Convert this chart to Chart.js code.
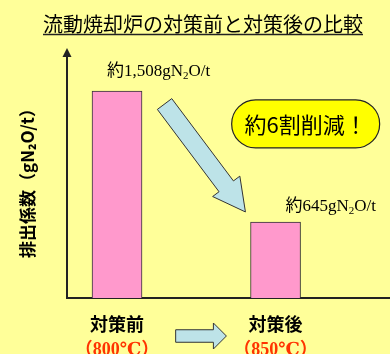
<!DOCTYPE html>
<html>
<head>
<meta charset="utf-8">
<script src="https://cdn.jsdelivr.net/npm/chart.js@4.4.1/dist/chart.umd.min.js"></script>
<style>
  html, body { margin: 0; padding: 0; background: #FFFF99; }
  #wrap { width: 390px; height: 354px; }
</style>
</head>
<body>
<div id="wrap"><canvas id="chart" width="390" height="354"></canvas></div>
<script>
// data
const categories = ['対策前', '対策後'];
const temperatures = ['（800℃）', '（850℃）'];
const emissions = [1508, 645];
const chartTitle = '流動焼却炉の対策前と対策後の比較';
const yTitle = '排出係数（gN₂O/t）';
const reductionText = '約6割削減！';

const SANS = "'Noto Sans CJK JP', 'Noto Sans', sans-serif";
const SERIF = "'Liberation Serif', 'DejaVu Serif', 'Noto Sans CJK JP', serif";

// 約1,508gN2O/t with a real subscript
const drawValueLabel = (ctx, value, x, y, size) => {
  const parts = [
    ['約' + value.toLocaleString('en-US') + 'gN', false],
    ['2', true],
    ['O/t', false]
  ];
  let cx = x;
  parts.forEach(([txt, sub]) => {
    const s = sub ? Math.round(size * 0.62) : size;
    ctx.font = `${s}px ${SERIF}`;
    ctx.fillText(txt, cx, sub ? y + 3 : y);
    cx += ctx.measureText(txt).width;
  });
};

const arrowPath = (ctx, sx, sy, tx, ty, shaft, head, headLen) => {
  const dx = tx - sx, dy = ty - sy;
  const len = Math.hypot(dx, dy);
  const ux = dx / len, uy = dy / len;
  const px = -uy, py = ux;
  const bx = tx - ux * headLen, by = ty - uy * headLen;
  ctx.beginPath();
  ctx.moveTo(sx + px * shaft / 2, sy + py * shaft / 2);
  ctx.lineTo(bx + px * shaft / 2, by + py * shaft / 2);
  ctx.lineTo(bx + px * head / 2, by + py * head / 2);
  ctx.lineTo(tx, ty);
  ctx.lineTo(bx - px * head / 2, by - py * head / 2);
  ctx.lineTo(bx - px * shaft / 2, by - py * shaft / 2);
  ctx.lineTo(sx - px * shaft / 2, sy - py * shaft / 2);
  ctx.closePath();
};

const annotations = {
  id: 'annotations',
  afterDraw(chart) {
    const { ctx, chartArea: area, scales } = chart;
    const x = scales.x, y = scales.y;
    ctx.save();

    // arrow head on top of y axis
    ctx.strokeStyle = '#222';
    ctx.fillStyle = '#222';
    ctx.lineWidth = 2;
    ctx.beginPath();
    ctx.moveTo(area.left, area.top + 1);
    ctx.lineTo(area.left, area.top - 6);
    ctx.stroke();
    ctx.beginPath();
    ctx.moveTo(area.left, area.top - 12);
    ctx.lineTo(area.left - 4.5, area.top - 3);
    ctx.lineTo(area.left + 4.5, area.top - 3);
    ctx.closePath();
    ctx.fill();

    // underline the title
    const tb = chart.titleBlock;
    ctx.font = `20px ${SANS}`;
    const tw = ctx.measureText(chartTitle).width;
    const tcx = (tb.left + tb.right) / 2;
    ctx.lineWidth = 1.5;
    ctx.beginPath();
    ctx.moveTo(tcx - tw / 2, 34.5);
    ctx.lineTo(tcx + tw / 2, 34.5);
    ctx.stroke();

    // value labels above the bars
    const bars = chart.getDatasetMeta(0).data;
    ctx.fillStyle = '#000';
    ctx.textBaseline = 'alphabetic';
    ctx.textAlign = 'left';
    drawValueLabel(ctx, emissions[0], bars[0].x - 10, bars[0].y - 15, 17);
    drawValueLabel(ctx, emissions[1], bars[1].x + 10, bars[1].y - 11, 17);

    // big diagonal arrow
    arrowPath(ctx,
      x.getPixelForValue(0.30), y.getPixelForValue(1422),
      x.getPixelForValue(0.81), y.getPixelForValue(711),
      18, 34, 32);
    ctx.fillStyle = '#BDE3E8';
    ctx.fill();
    ctx.strokeStyle = '#333';
    ctx.lineWidth = 1;
    ctx.stroke();

    // reduction bubble
    const bx = x.getPixelForValue(1.19), by = y.getPixelForValue(1291);
    const bw = 148, bh = 48;
    ctx.beginPath();
    ctx.roundRect(bx - bw / 2, by - bh / 2, bw, bh, bh / 2);
    ctx.fillStyle = '#FFFF00';
    ctx.fill();
    ctx.strokeStyle = '#222';
    ctx.lineWidth = 1.2;
    ctx.stroke();
    ctx.fillStyle = '#000';
    ctx.font = `22px ${SANS}`;
    ctx.textAlign = 'center';
    ctx.textBaseline = 'middle';
    ctx.fillText(reductionText, bx, by + 1);

    // small arrow between the category labels
    const ay = area.bottom + 38;
    arrowPath(ctx,
      x.getPixelForValue(0.37), ay,
      x.getPixelForValue(0.69), ay,
      12.5, 26, 13);
    ctx.fillStyle = '#BDE3E8';
    ctx.fill();
    ctx.strokeStyle = '#333';
    ctx.lineWidth = 1;
    ctx.stroke();

    ctx.restore();
  }
};

const tickValues = categories.map((c, i) => ({ value: i }));

const config = {
  type: 'bar',
  data: {
    datasets: [{
      data: emissions.map((v, i) => ({ x: i, y: v })),
      backgroundColor: '#FF99CC',
      borderColor: '#333',
      borderWidth: 1,
      barThickness: 50
    }]
  },
  options: {
    responsive: false,
    animation: false,
    layout: { padding: { left: 16, right: 0, top: 0, bottom: 0 } },
    plugins: {
      legend: { display: false },
      tooltip: { enabled: false },
      title: {
        display: true,
        text: chartTitle,
        color: '#000',
        font: { family: SANS, size: 20, weight: 'normal', lineHeight: 1.2 },
        padding: { top: 12, bottom: 24 }
      }
    },
    scales: {
      x: {
        type: 'linear',
        position: 'bottom',
        offset: false,
        min: -0.3155,
        max: 1.722,
        afterBuildTicks: s => { s.ticks = tickValues.map(t => ({ ...t })); },
        afterFit: s => { s.height = 38; },
        grid: { display: false, offset: false },
        border: { display: true, color: '#222', width: 2 },
        ticks: {
          autoSkip: false,
          maxRotation: 0,
          padding: 7,
          color: '#000',
          font: { family: SANS, size: 18, weight: 'bold' },
          callback: v => categories[v]
        }
      },
      x2: {
        type: 'linear',
        axis: 'x',
        position: 'bottom',
        offset: false,
        min: -0.3155,
        max: 1.722,
        afterBuildTicks: s => { s.ticks = tickValues.map(t => ({ ...t })); },
        afterFit: s => { s.height = 18; },
        grid: { display: false, offset: false },
        border: { display: false },
        ticks: {
          autoSkip: false,
          maxRotation: 0,
          padding: -4,
          color: '#FF3300',
          font: { family: SERIF, size: 18, weight: 'bold' },
          callback: v => temperatures[v]
        }
      },
      y: {
        min: 144,
        max: 1712,
        afterFit: s => { s.width = 51; },
        grid: { display: false },
        border: { display: true, color: '#222', width: 2 },
        ticks: { display: false },
        title: {
          display: true,
          text: yTitle,
          color: '#000',
          font: { family: SANS, size: 17, weight: 'bold' },
          padding: { top: 1, bottom: 0 }
        }
      }
    }
  },
  plugins: [annotations]
};

new Chart(document.getElementById('chart'), config);
</script>
</body>
</html>
